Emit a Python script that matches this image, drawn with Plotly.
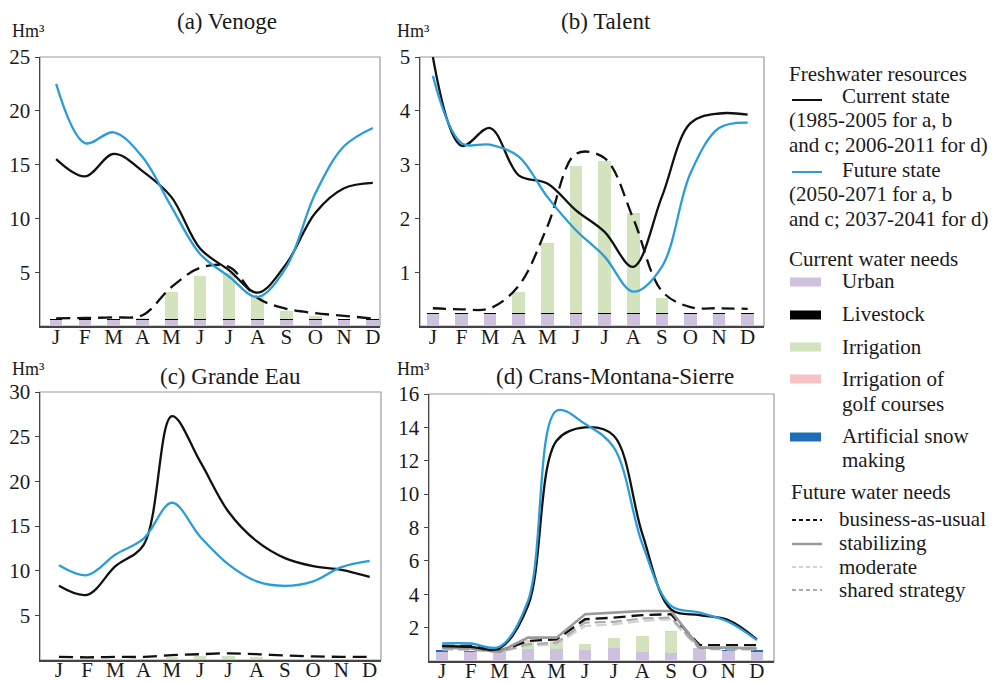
import plotly.graph_objects as go

W, H = 996, 683
FONT = "Liberation Serif, Times New Roman, Times, serif"

months = ["J", "F", "M", "A", "M", "J", "J", "A", "S", "O", "N", "D"]
xm = list(range(12))

# (a) Venoge
a_current = [15.5, 13.9, 16.0, 14.4, 12.0, 7.2, 5.2, 3.1, 5.8, 10.5, 12.8, 13.3]
a_future = [22.5, 17.0, 18.0, 15.7, 11.1, 6.7, 4.6, 2.7, 5.5, 12.3, 16.7, 18.4]
a_bau = [0.7, 0.75, 0.8, 1.0, 3.6, 5.4, 5.5, 2.6, 1.6, 1.2, 0.95, 0.7]
a_urban = [0.55, 0.55, 0.55, 0.55, 0.55, 0.55, 0.55, 0.55, 0.55, 0.55, 0.55, 0.55]
a_livestock = [0.12, 0.12, 0.12, 0.12, 0.12, 0.12, 0.12, 0.12, 0.12, 0.12, 0.12, 0.12]
a_irrig = [0, 0, 0, 0.05, 2.5, 3.95, 4.3, 2.1, 0.75, 0.25, 0, 0]

# (b) Talent
b_current = [5.0, 3.35, 3.68, 2.8, 2.65, 2.15, 1.75, 1.1, 2.4, 3.77, 3.95, 3.93]
b_future = [4.65, 3.4, 3.37, 3.15, 2.4, 1.78, 1.29, 0.64, 1.1, 2.84, 3.68, 3.78]
b_bau = [0.33, 0.31, 0.33, 0.75, 1.85, 3.2, 3.12, 2.0, 0.65, 0.35, 0.33, 0.32]
b_urban = [0.22, 0.22, 0.22, 0.22, 0.22, 0.22, 0.22, 0.22, 0.22, 0.22, 0.22, 0.22]
b_livestock = [0.02, 0.02, 0.02, 0.02, 0.02, 0.02, 0.02, 0.02, 0.02, 0.02, 0.02, 0.02]
b_irrig = [0, 0, 0, 0.4, 1.3, 2.74, 2.83, 1.86, 0.28, 0, 0, 0]

# (c) Grande Eau
c_current = [8.3, 7.3, 10.5, 12.9, 27.3, 22.2, 16.6, 13.3, 11.4, 10.5, 10.1, 9.3]
c_future = [10.6, 9.5, 11.8, 13.6, 17.6, 13.8, 10.7, 8.8, 8.3, 8.8, 10.4, 11.1]
c_bau = [0.35, 0.3, 0.35, 0.35, 0.55, 0.65, 0.75, 0.65, 0.5, 0.4, 0.35, 0.35]
c_urban = [0.15, 0.15, 0.15, 0.15, 0.15, 0.15, 0.15, 0.15, 0.15, 0.15, 0.15, 0.15]
c_irrig = [0, 0, 0, 0, 0.2, 0.25, 0.3, 0.2, 0, 0, 0, 0]

# (d) Crans-Montana-Sierre
d_current = [0.9, 0.85, 0.75, 3.3, 13.2, 14.0, 13.5, 7.6, 3.1, 2.75, 2.45, 1.3]
d_future = [1.05, 1.05, 0.85, 3.6, 15.0, 14.2, 12.8, 7.0, 3.3, 2.9, 2.35, 1.25]
d_bau = [0.9, 0.9, 0.6, 1.2, 1.3, 2.5, 2.6, 2.75, 2.8, 0.95, 0.95, 0.95]
d_stab = [0.8, 0.75, 0.55, 1.4, 1.4, 2.8, 2.9, 3.0, 3.0, 0.8, 0.8, 0.75]
d_moderate = [0.7, 0.65, 0.55, 0.9, 1.0, 2.1, 2.2, 2.4, 2.5, 0.7, 0.7, 0.7]
d_shared = [0.75, 0.7, 0.55, 1.0, 1.1, 2.3, 2.35, 2.55, 2.6, 0.75, 0.72, 0.7]
d_urban = [0.55, 0.55, 0.6, 0.7, 0.7, 0.65, 0.75, 0.55, 0.5, 0.75, 0.6, 0.55]
d_irrig = [0, 0, 0, 0.5, 0.5, 0.35, 0.6, 0.93, 1.25, 0, 0, 0]
d_golf = [0, 0, 0, 0.04, 0.04, 0.04, 0.04, 0.04, 0.04, 0, 0, 0]
d_snow = [0.08, 0.05, 0, 0, 0, 0, 0, 0, 0, 0.03, 0.05, 0.08]

C_BLACK = "#111111"
C_BLUE = "#2a9dd8"
C_URBAN = "#cdc1de"
C_LIVE = "#000000"
C_IRR = "#d3e3bd"
C_GOLF = "#f6c4c6"
C_SNOW = "#1f6db8"
C_STAB = "#9a9a9a"
C_MOD = "#d2d2d2"
C_SHARED = "#ababab"

TICK_SIZE = 21
LEG_SIZE = 21
TITLE_SIZE = 23


def px(x):
    return x / W


def py(y):
    return 1 - y / H


panels = [
    # axis suffix, x pixel domain, y pixel domain, x range, y range, y ticks, label standoff
    ("", (40, 380), (57, 326), [-0.56, 11.25], [0, 25], [5, 10, 15, 20, 25], -9),
    ("2", (420, 764), (57, 326), [-0.45, 11.57], [0, 5], [1, 2, 3, 4, 5], -9),
    ("3", (40, 381), (392, 660), [-0.67, 11.4], [0, 30], [5, 10, 15, 20, 25, 30], -10),
    ("4", (429, 774), (394, 661), [-0.46, 11.6], [0, 16], [2, 4, 6, 8, 10, 12, 14, 16], -10),
]

fig = go.Figure()


def add_bar(ax, vals, color, name):
    fig.add_trace(go.Bar(x=xm, y=vals, marker=dict(color=color, line=dict(width=0)),
                         width=0.44, name=name, showlegend=False,
                         xaxis="x" + ax, yaxis="y" + ax))


def add_line(ax, vals, color, width, dash="solid", shape="spline"):
    fig.add_trace(go.Scatter(x=xm, y=vals, mode="lines",
                             line=dict(color=color, width=width, dash=dash, shape=shape,
                                       smoothing=1.0 if shape == "spline" else None),
                             showlegend=False, xaxis="x" + ax, yaxis="y" + ax))


# (a)
add_bar("", a_urban, C_URBAN, "Urban")
add_bar("", a_livestock, C_LIVE, "Livestock")
add_bar("", a_irrig, C_IRR, "Irrigation")
add_line("", a_bau, C_BLACK, 2.3, "14px,7px")
add_line("", a_current, C_BLACK, 2.3)
add_line("", a_future, C_BLUE, 2.3)
# (b)
add_bar("2", b_urban, C_URBAN, "Urban")
add_bar("2", b_livestock, C_LIVE, "Livestock")
add_bar("2", b_irrig, C_IRR, "Irrigation")
add_line("2", b_bau, C_BLACK, 2.3, "13px,7px")
add_line("2", b_current, C_BLACK, 2.3)
add_line("2", b_future, C_BLUE, 2.3)
# (c)
add_bar("3", c_urban, C_URBAN, "Urban")
add_bar("3", c_irrig, C_IRR, "Irrigation")
add_line("3", c_bau, C_BLACK, 2.3, "14px,7px")
add_line("3", c_current, C_BLACK, 2.3)
add_line("3", c_future, C_BLUE, 2.3)
# (d)
add_bar("4", d_urban, C_URBAN, "Urban")
add_bar("4", d_irrig, C_IRR, "Irrigation")
add_bar("4", d_golf, C_GOLF, "Golf")
add_bar("4", d_snow, C_SNOW, "Snow")
add_line("4", d_moderate, C_MOD, 2.2, "11px,5px", "linear")
add_line("4", d_shared, C_SHARED, 2.2, "11px,5px", "linear")
add_line("4", d_bau, C_BLACK, 2.4, "12px,6px", "linear")
add_line("4", d_stab, C_STAB, 2.6, "solid", "linear")
add_line("4", d_current, C_BLACK, 2.3)
add_line("4", d_future, C_BLUE, 2.3)

layout = dict(
    template="none",
    width=W, height=H, margin=dict(l=0, r=0, t=0, b=0, pad=0),
    paper_bgcolor="white", plot_bgcolor="white",
    barmode="stack", showlegend=False,
    font=dict(family=FONT, size=TICK_SIZE, color="#1a1a1a"),
)

shapes = []
annotations = []
for ax, (x0, x1), (y0, y1), xr, yr, yt, so in panels:
    xk = "xaxis" + ax
    yk = "yaxis" + ax
    layout[xk] = dict(domain=[px(x0), px(x1)], range=xr, anchor="y" + ax,
                      tickvals=xm, ticktext=months, ticks="", showgrid=False,
                      zeroline=False, showline=True, linecolor="#444", linewidth=1.5,
                      tickfont=dict(family=FONT, size=TICK_SIZE, color="#1a1a1a"),
                      automargin=False, ticklabelstandoff=so, fixedrange=True)
    layout[yk] = dict(domain=[py(y1), py(y0)], range=yr, anchor="x" + ax,
                      tickvals=yt, ticks="outside", ticklen=4, tickcolor="#444",
                      showgrid=False, zeroline=False, showline=True, linecolor="#444",
                      linewidth=1.5,
                      tickfont=dict(family=FONT, size=TICK_SIZE, color="#1a1a1a"),
                      automargin=False, fixedrange=True)
    shapes.append(dict(type="rect", xref="x" + ax + " domain", yref="y" + ax + " domain",
                       x0=0, x1=1, y0=0, y1=1, line=dict(color="#9a9a9a", width=1.2),
                       layer="below"))

# Titles and unit labels
for text, x, y in [
    ("(a) Venoge", 227, 22),
    ("(b) Talent", 606, 22),
    ("(c) Grande Eau", 230, 376),
    ("(d) Crans-Montana-Sierre", 615, 376),
]:
    annotations.append(dict(text=text, x=px(x), y=py(y), xref="paper", yref="paper",
                            showarrow=False, xanchor="center", yanchor="middle",
                            font=dict(family=FONT, size=TITLE_SIZE, color="#1a1a1a")))
for x, y in [(10, 31), (395, 31), (10, 369), (395, 369)]:
    annotations.append(dict(text="Hm³", x=px(x), y=py(y), xref="paper", yref="paper",
                            showarrow=False, xanchor="left", yanchor="middle",
                            font=dict(family=FONT, size=18, color="#1a1a1a")))


# Legend (drawn as annotations and shapes)
def ltext(text, x, y):
    annotations.append(dict(text=text, x=px(x), y=py(y), xref="paper", yref="paper",
                            showarrow=False, xanchor="left", yanchor="middle",
                            font=dict(family=FONT, size=LEG_SIZE, color="#1a1a1a")))


def lline(y, color, dash="solid", width=2):
    shapes.append(dict(type="line", xref="paper", yref="paper", x0=px(792), x1=px(822),
                       y0=py(y), y1=py(y), line=dict(color=color, width=width, dash=dash)))


def lbox(y, color):
    shapes.append(dict(type="rect", xref="paper", yref="paper", x0=px(790), x1=px(821),
                       y0=py(y + 4.5), y1=py(y - 4.5), fillcolor=color,
                       line=dict(width=0)))


ltext("Freshwater resources", 787, 74)
lline(100, C_BLACK)
ltext("Current state", 840, 96)
ltext("(1985-2005 for a, b", 787, 120)
ltext("and c; 2006-2011 for d)", 787, 145)
lline(172, C_BLUE)
ltext("Future state", 840, 170)
ltext("(2050-2071 for a, b", 787, 194)
ltext("and c; 2037-2041 for d)", 787, 219)
ltext("Current water needs", 787, 259)
lbox(282, C_URBAN)
ltext("Urban", 840, 281)
lbox(315, C_LIVE)
ltext("Livestock", 840, 314)
lbox(347, C_IRR)
ltext("Irrigation", 840, 347)
lbox(379, C_GOLF)
ltext("Irrigation of", 840, 379)
ltext("golf courses", 840, 404)
lbox(437, C_SNOW)
ltext("Artificial snow", 840, 436)
ltext("making", 840, 460)
ltext("Future water needs", 789, 492)
lline(520, C_BLACK, "4px,3px")
ltext("business-as-usual", 837, 519)
lline(544, C_STAB, "solid", 2.5)
ltext("stabilizing", 837, 543)
lline(567, C_MOD, "4px,3px")
ltext("moderate", 837, 567)
lline(590, C_SHARED, "4px,3px")
ltext("shared strategy", 837, 590)

layout["shapes"] = shapes
layout["annotations"] = annotations
fig.update_layout(**layout)

fig.write_html("out.html",
               config={"displayModeBar": False, "staticPlot": True},
               post_script="document.body.style.margin='0px';"
                           "document.body.style.overflow='hidden';")
